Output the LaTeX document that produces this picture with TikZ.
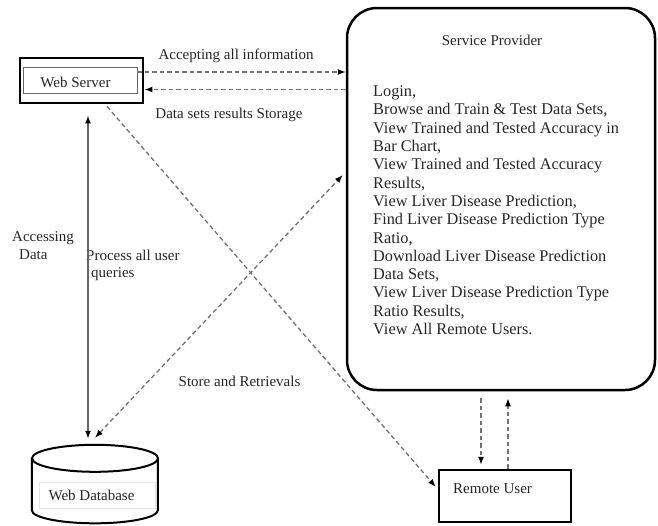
\documentclass[tikz,border=0pt]{standalone}
\usepackage{fontspec}
\setmainfont{Liberation Serif}
\usetikzlibrary{arrows.meta}

\begin{document}
\begin{tikzpicture}[x=1pt,y=-1pt,
	lbl/.style={font=\fontsize{15}{17.5}\selectfont, text=black!85, inner sep=0pt},
	dline/.style={draw=black!55, line width=1.3pt, dash pattern=on 4.5pt off 3pt},
	tipend/.style={-{Latex[length=8pt,width=6pt,color=black]}},
	tipboth/.style={{Latex[length=8pt,width=6pt,color=black]}-{Latex[length=8pt,width=6pt,color=black]}}]
			\useasboundingbox (0,0) rectangle (658,525);
			\node[draw, line width=2.8pt, minimum width=123, minimum height=45, inner sep=0pt] (ws) at (81.5,80.5) {};
			\node[draw=black!60, line width=0.8pt, minimum width=114, minimum height=26, inner sep=0pt] (wsin) at (80,80) {};
			\node[lbl] (wstxt) at (75.5,82) {Web Server};
			\node[draw, line width=2.5pt, rounded corners=30pt, minimum width=308, minimum height=382, inner sep=0pt] (sp) at (501,199) {};
			\node[lbl] (sptitle) at (492,40) {Service Provider};
			\node[anchor=north west, align=left, inner sep=0pt, font=\fontsize{16.3}{18.3}\selectfont, text=black!85] (splist) at (373,85.7) {Login,\\Browse and Train \& Test Data Sets,\\View Trained and Tested Accuracy in\\Bar Chart,\\View Trained and Tested Accuracy\\Results,\\View Liver Disease Prediction,\\Find Liver Disease Prediction Type\\Ratio,\\Download Liver Disease Prediction\\Data Sets,\\View Liver Disease Prediction Type\\Ratio Results,\\View All Remote Users.};
			\node[draw, line width=2.5pt, minimum width=132, minimum height=52, inner sep=0pt] (ru) at (505,496) {};
			\node[lbl, anchor=west] (rutxt) at (453,489) {Remote User};
			\node[minimum width=126, minimum height=78, inner sep=0pt] (db) at (95,484) {};
			\draw[line width=2pt] (db.north west) ++(0,13.5) -- ++(0,52) arc[start angle=180, end angle=360, x radius=63pt, y radius=13pt] -- ++(0,-52);
			\draw[line width=2pt] (db.north) ++(0,13.5) ellipse[x radius=63pt, y radius=13.5pt];
			\node[draw=black!10, minimum width=116, minimum height=26, inner sep=0pt] (dbin) at (97,495) {};
			\node[lbl] (dbtxt) at (91.5,495) {Web Database};
			\node[lbl] (accept) at (236,56) {Accepting all information};
			\node[lbl] (store) at (229,115) {Data sets results Storage};
			\node[lbl, anchor=north west, align=left] (access) at (12,231.5) {Accessing\\\hspace*{7pt}Data};
			\node[lbl, anchor=north west, align=left] (query) at (86,249.5) {Process all user\\\hspace*{5pt}queries};
			\node[lbl] (retr) at (239.5,381) {Store and Retrievals};
			\draw[dline, tipend] ([yshift=8]wsin.east) -- ([yshift=8]wsin.east -| sp.west);
			\draw[dline, tipend] ([yshift=-9]ws.east -| sp.west) -- ([yshift=-9]ws.east);
			\draw[draw=black!60, line width=1.4pt, tipboth, shorten <=11pt] ([xshift=6.5]ws.south) -- ([xshift=-7,yshift=6]db.north);
			\draw[dline, tipboth] ([yshift=7]db.north) -- ([xshift=-3,yshift=24]sp.west);
			\draw[dline, tipend] ([xshift=25.5,yshift=-2]ws.south) -- ([xshift=-2,yshift=9]ru.west);
			\draw[dline, tipend, shorten >=4pt] ([xshift=-20,yshift=-7]sp.south) -- ([xshift=-20]sp.south |- ru.north);
			\draw[dline, tipend, shorten >=7pt] ([xshift=3]ru.north) -- ([xshift=3]ru.north |- sp.south);
\end{tikzpicture}
\end{document}
